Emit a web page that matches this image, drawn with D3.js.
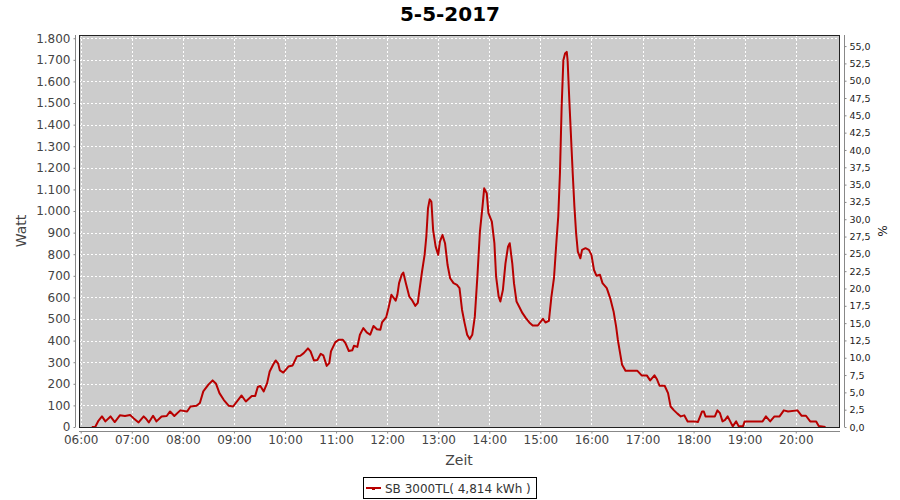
<!DOCTYPE html>
<html><head><meta charset="utf-8">
<script src="https://cdn.jsdelivr.net/npm/d3@7"></script>
<style>body{margin:0;background:#fff}svg{display:block}</style>
</head><body><svg id="c" width="900" height="500"></svg>
<script>
const chartTitle = "5-5-2017";
const times = ["06:13","06:17","06:21","06:25","06:29","06:35","06:40","06:46","06:52","06:58","07:02","07:08","07:14","07:17","07:20","07:25","07:29","07:35","07:41","07:45","07:50","07:57","08:05","08:09","08:16","08:20","08:24","08:30","08:35","08:39","08:43","08:48","08:54","08:59","09:05","09:09","09:14","09:21","09:25","09:28","09:31","09:35","09:39","09:42","09:46","09:49","09:52","09:54","09:58","10:04","10:09","10:14","10:18","10:22","10:27","10:30","10:34","10:38","10:42","10:45","10:49","10:52","10:54","10:59","11:03","11:08","11:11","11:15","11:19","11:21","11:25","11:28","11:32","11:36","11:40","11:44","11:48","11:52","11:54","11:59","12:02","12:05","12:08","12:10","12:12","12:14","12:17","12:19","12:22","12:26","12:29","12:33","12:36","12:38","12:41","12:44","12:46","12:48","12:50","12:52","12:54","12:57","13:00","13:02","13:05","13:08","13:11","13:14","13:18","13:22","13:25","13:28","13:31","13:34","13:37","13:40","13:43","13:46","13:49","13:52","13:54","13:57","13:59","14:03","14:06","14:08","14:11","14:13","14:16","14:19","14:22","14:24","14:27","14:29","14:32","14:35","14:39","14:43","14:47","14:51","14:57","15:03","15:06","15:10","15:13","15:16","15:19","15:21","15:23","15:25","15:27","15:29","15:31","15:32","15:34","15:36","15:38","15:40","15:42","15:44","15:47","15:49","15:53","15:57","16:00","16:03","16:06","16:10","16:13","16:18","16:22","16:26","16:29","16:31","16:34","16:36","16:40","16:44","16:54","16:59","17:05","17:09","17:14","17:17","17:20","17:26","17:30","17:33","17:37","17:41","17:45","17:49","17:53","18:01","18:05","18:10","18:12","18:14","18:25","18:28","18:31","18:34","18:37","18:40","18:43","18:46","18:50","18:53","18:58","19:00","19:03","19:21","19:25","19:30","19:35","19:41","19:46","19:51","20:02","20:07","20:12","20:17","20:24","20:27","20:35"];
const watts = [0,0,30,49,26,49,23,54,51,56,41,21,49,37,21,52,26,49,51,72,51,77,72,95,98,111,165,196,216,200,157,126,98,95,126,146,118,144,144,185,190,165,203,257,288,308,293,262,252,280,285,327,330,342,364,350,308,310,339,332,283,296,350,392,404,404,388,352,355,376,371,427,458,438,427,468,453,450,484,509,558,612,596,585,612,666,704,715,666,604,589,561,575,635,720,797,881,1013,1054,1043,912,835,797,858,889,851,750,689,666,658,643,542,481,427,407,427,511,696,905,1020,1105,1082,990,951,851,696,604,581,635,758,835,851,758,666,581,558,527,504,484,470,470,501,484,491,604,690,866,974,1175,1483,1698,1729,1737,1698,1514,1344,1175,1020,897,812,781,820,828,820,797,727,700,705,666,643,597,535,465,404,334,288,260,260,260,239,239,216,239,221,191,191,157,95,77,62,49,54,26,26,23,72,72,49,49,77,64,26,33,49,26,3,26,3,3,26,26,26,49,26,49,49,77,72,77,52,52,26,26,5,0];
const wattTicks = [0,100,200,300,400,500,600,700,800,900,1000,1100,1200,1300,1400,1500,1600,1700,1800];
const pctTicks = [0,2.5,5,7.5,10,12.5,15,17.5,20,22.5,25,27.5,30,32.5,35,37.5,40,42.5,45,47.5,50,52.5,55];
const hourTicks = ["06:00","07:00","08:00","09:00","10:00","11:00","12:00","13:00","14:00","15:00","16:00","17:00","18:00","19:00","20:00"];
const legendLabel = "SB 3000TL( 4,814 kWh )";

const parseT = d3.timeParse("%H:%M");
const data = times.map((t,i)=>({t:parseT(t), w:watts[i]}));

const L=79, R=840, T=35, B=427;
const svg = d3.select("#c");
const font = "DejaVu Sans, sans-serif";
const x = d3.scaleTime().domain([parseT("05:58"), d3.timeMinute.offset(parseT("20:52"),0)]).range([L,R]);
const y = d3.scaleLinear().domain([0,1815]).range([B,T]);
const y2 = d3.scaleLinear().domain([0,56.6]).range([B,T]);

// title
svg.append("text").attr("x",450).attr("y",21).attr("text-anchor","middle")
  .attr("font-family",font).attr("font-weight","bold").attr("font-size",20).attr("fill","#000").text(chartTitle);

// plot background
svg.append("rect").attr("x",L).attr("y",T).attr("width",R-L).attr("height",B-T).attr("fill","#cccccc");

// grid
const g = svg.append("g");
g.selectAll("line.h").data(wattTicks.slice(1)).join("line")
  .attr("x1",L).attr("x2",R).attr("y1",d=>Math.round(y(d))+0.5).attr("y2",d=>Math.round(y(d))+0.5)
  .attr("stroke","#fff").attr("stroke-dasharray","2,2");
g.selectAll("line.v").data(hourTicks).join("line")
  .attr("y1",T).attr("y2",B).attr("x1",d=>Math.round(x(parseT(d)))+0.5).attr("x2",d=>Math.round(x(parseT(d)))+0.5)
  .attr("stroke","#fff").attr("stroke-dasharray","2,2");

// data line
svg.append("path").datum(data)
  .attr("d", d3.line().x(d=>x(d.t)).y(d=>y(d.w)))
  .attr("fill","none").attr("stroke","#b80000").attr("stroke-width",2).attr("stroke-linejoin","round");

// frame
svg.append("rect").attr("x",L+0.5).attr("y",T+0.5).attr("width",R-L-1).attr("height",B-T).attr("fill","none").attr("stroke","#222");

// left axis
const axL = svg.append("g").attr("transform",`translate(${L-3.5},0)`)
  .call(d3.axisLeft(y).tickValues(wattTicks).tickSize(2).tickPadding(3)
    .tickFormat(d=>d3.format(",")(d).replace(/,/g,".")));
axL.select(".domain").attr("stroke","#888").attr("d",`M0,${T}V${B}`);
axL.selectAll(".tick line").attr("stroke","#888");
axL.selectAll("text").attr("font-family",font).attr("font-size",12).attr("fill","#444");

// right axis
const axR = svg.append("g").attr("transform",`translate(${R+4.5},0)`)
  .call(d3.axisRight(y2).tickValues(pctTicks).tickSize(2).tickPadding(3)
    .tickFormat(d=>d3.format(".1f")(d).replace(".",",")));
axR.select(".domain").attr("stroke","#888").attr("d",`M0,${T}V${B}`);
axR.selectAll(".tick line").attr("stroke","#888");
axR.selectAll("text").attr("font-family",font).attr("font-size",9.5).attr("fill","#222");

// bottom axis
const axB = svg.append("g").attr("transform",`translate(0,${B+4.5})`)
  .call(d3.axisBottom(x).tickValues(hourTicks.map(parseT)).tickSize(2).tickPadding(2)
    .tickFormat(d3.timeFormat("%H:%M")));
axB.select(".domain").attr("stroke","#888").attr("d",`M${L},0H${R}`);
axB.selectAll(".tick line").attr("stroke","#888");
axB.selectAll("text").attr("font-family",font).attr("font-size",12).attr("fill","#444");

// axis titles
svg.append("text").attr("transform",`translate(26,${(T+B)/2}) rotate(-90)`).attr("text-anchor","middle")
  .attr("font-family",font).attr("font-size",14).attr("fill","#444").text("Watt");
svg.append("text").attr("transform",`translate(878,${(T+B)/2}) rotate(90)`).attr("text-anchor","middle")
  .attr("font-family",font).attr("font-size",12).attr("fill","#222").text("%");
svg.append("text").attr("x",459).attr("y",465).attr("text-anchor","middle")
  .attr("font-family",font).attr("font-size",14).attr("fill","#444").text("Zeit");

// legend
const lg = svg.append("g");
lg.append("rect").attr("x",363.5).attr("y",477.5).attr("width",173).attr("height",21).attr("fill","#fff").attr("stroke","#000");
lg.append("line").attr("x1",366).attr("x2",381).attr("y1",488).attr("y2",488).attr("stroke","#b80000").attr("stroke-width",2);
lg.append("rect").attr("x",372).attr("y",487).attr("width",3).attr("height",3).attr("fill","#b80000");
lg.append("text").attr("x",385).attr("y",492.5).attr("font-family",font).attr("font-size",12).attr("fill","#333").text(legendLabel);
</script></body></html>
